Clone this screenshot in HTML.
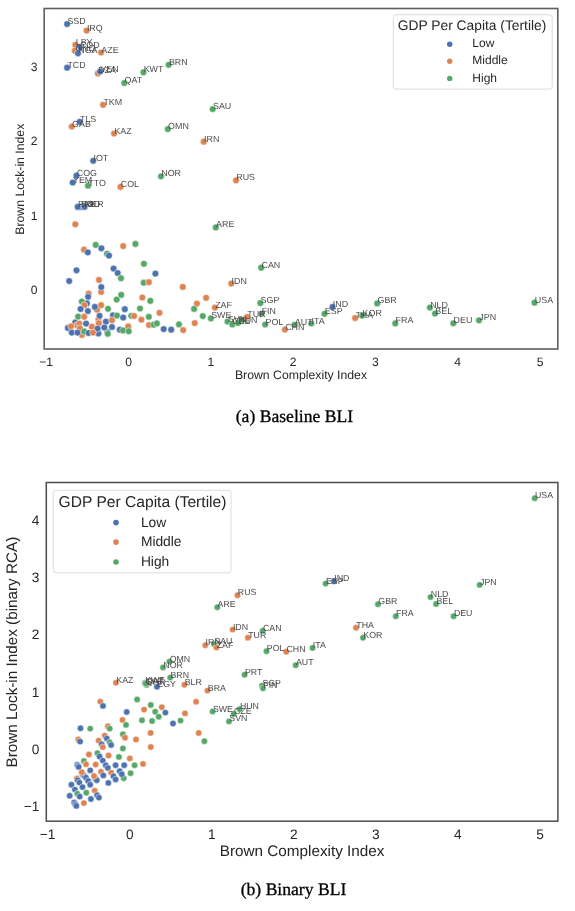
<!DOCTYPE html>
<html><head><meta charset="utf-8"><style>
html,body{margin:0;padding:0;background:#fff;}
body{width:575px;height:911px;overflow:hidden;}
svg{display:block;}
svg{will-change:transform;}
text{text-rendering:geometricPrecision;}
.s{font-family:"Liberation Sans",sans-serif;}
.cap{font-family:"Liberation Serif",serif;fill:#000;}
</style></head><body>
<svg width="575" height="911" viewBox="0 0 575 911">
<rect width="575" height="911" fill="#fff"/>
<!-- ========== PLOT 1 ========== -->
<g stroke="#fff" stroke-width="0.5">
<circle cx="84" cy="249.7" r="3.35" fill="#dd8452"/>
<circle cx="87.8" cy="252.4" r="3.35" fill="#4c72b0"/>
<circle cx="95.7" cy="244.9" r="3.35" fill="#55a868"/>
<circle cx="101.4" cy="248.3" r="3.35" fill="#4c72b0"/>
<circle cx="107" cy="253.8" r="3.35" fill="#55a868"/>
<circle cx="109" cy="255.6" r="3.35" fill="#4c72b0"/>
<circle cx="123.2" cy="246.1" r="3.35" fill="#dd8452"/>
<circle cx="135.4" cy="243.9" r="3.35" fill="#55a868"/>
<circle cx="143.9" cy="263.8" r="3.35" fill="#55a868"/>
<circle cx="76.5" cy="270.3" r="3.35" fill="#4c72b0"/>
<circle cx="113.6" cy="268.6" r="3.35" fill="#4c72b0"/>
<circle cx="117.7" cy="273" r="3.35" fill="#4c72b0"/>
<circle cx="121" cy="278.2" r="3.35" fill="#55a868"/>
<circle cx="69.2" cy="281" r="3.35" fill="#4c72b0"/>
<circle cx="99" cy="279.9" r="3.35" fill="#dd8452"/>
<circle cx="143.7" cy="282.7" r="3.35" fill="#55a868"/>
<circle cx="148.9" cy="282.2" r="3.35" fill="#dd8452"/>
<circle cx="155.4" cy="273.6" r="3.35" fill="#4c72b0"/>
<circle cx="182.8" cy="286.9" r="3.35" fill="#dd8452"/>
<circle cx="75.3" cy="224.3" r="3.35" fill="#dd8452"/>
<circle cx="101.1" cy="292" r="3.35" fill="#dd8452"/>
<circle cx="101.3" cy="287.1" r="3.35" fill="#4c72b0"/>
<circle cx="88.6" cy="293.7" r="3.35" fill="#dd8452"/>
<circle cx="88.1" cy="296.8" r="3.35" fill="#4c72b0"/>
<circle cx="81.8" cy="301.5" r="3.35" fill="#55a868"/>
<circle cx="86.9" cy="303.4" r="3.35" fill="#4c72b0"/>
<circle cx="84.4" cy="305.2" r="3.35" fill="#dd8452"/>
<circle cx="80.6" cy="309" r="3.35" fill="#4c72b0"/>
<circle cx="87.9" cy="311.1" r="3.35" fill="#4c72b0"/>
<circle cx="97" cy="309.7" r="3.35" fill="#dd8452"/>
<circle cx="94.9" cy="306.9" r="3.35" fill="#4c72b0"/>
<circle cx="101.1" cy="305.2" r="3.35" fill="#dd8452"/>
<circle cx="67.9" cy="327.9" r="3.35" fill="#4c72b0"/>
<circle cx="75.3" cy="322.4" r="3.35" fill="#4c72b0"/>
<circle cx="82" cy="335" r="3.35" fill="#dd8452"/>
<circle cx="98.4" cy="333.4" r="3.35" fill="#4c72b0"/>
<circle cx="107.4" cy="332.2" r="3.35" fill="#4c72b0"/>
<circle cx="76.9" cy="325.2" r="3.35" fill="#dd8452"/>
<circle cx="79.3" cy="323.6" r="3.35" fill="#dd8452"/>
<circle cx="80" cy="328.3" r="3.35" fill="#dd8452"/>
<circle cx="98.4" cy="319.7" r="3.35" fill="#dd8452"/>
<circle cx="99.6" cy="315.8" r="3.35" fill="#4c72b0"/>
<circle cx="71" cy="326.3" r="3.35" fill="#dd8452"/>
<circle cx="86.1" cy="323.6" r="3.35" fill="#4c72b0"/>
<circle cx="91.8" cy="326.7" r="3.35" fill="#dd8452"/>
<circle cx="98.8" cy="323.2" r="3.35" fill="#dd8452"/>
<circle cx="105.9" cy="321.7" r="3.35" fill="#4c72b0"/>
<circle cx="97.6" cy="328.7" r="3.35" fill="#4c72b0"/>
<circle cx="104.3" cy="327.5" r="3.35" fill="#4c72b0"/>
<circle cx="71.8" cy="332.6" r="3.35" fill="#4c72b0"/>
<circle cx="77.5" cy="332.6" r="3.35" fill="#4c72b0"/>
<circle cx="84.2" cy="331.4" r="3.35" fill="#55a868"/>
<circle cx="88.6" cy="333" r="3.35" fill="#4c72b0"/>
<circle cx="93" cy="332.6" r="3.35" fill="#dd8452"/>
<circle cx="107.8" cy="333.8" r="3.35" fill="#55a868"/>
<circle cx="78.1" cy="316.6" r="3.35" fill="#55a868"/>
<circle cx="84.2" cy="316.7" r="3.35" fill="#dd8452"/>
<circle cx="121.2" cy="294.9" r="3.35" fill="#55a868"/>
<circle cx="116.7" cy="299.6" r="3.35" fill="#55a868"/>
<circle cx="142.3" cy="297.5" r="3.35" fill="#dd8452"/>
<circle cx="150.3" cy="300.9" r="3.35" fill="#55a868"/>
<circle cx="108" cy="308.8" r="3.35" fill="#55a868"/>
<circle cx="124.8" cy="309.2" r="3.35" fill="#4c72b0"/>
<circle cx="140" cy="308.5" r="3.35" fill="#55a868"/>
<circle cx="159.5" cy="312.8" r="3.35" fill="#dd8452"/>
<circle cx="113" cy="315.3" r="3.35" fill="#4c72b0"/>
<circle cx="117" cy="315.6" r="3.35" fill="#55a868"/>
<circle cx="123.2" cy="317.6" r="3.35" fill="#4c72b0"/>
<circle cx="131.3" cy="315.8" r="3.35" fill="#55a868"/>
<circle cx="134.1" cy="316" r="3.35" fill="#dd8452"/>
<circle cx="141.4" cy="319.7" r="3.35" fill="#dd8452"/>
<circle cx="148.8" cy="316.8" r="3.35" fill="#55a868"/>
<circle cx="112" cy="320.2" r="3.35" fill="#dd8452"/>
<circle cx="112" cy="327" r="3.35" fill="#4c72b0"/>
<circle cx="128.2" cy="326.4" r="3.35" fill="#dd8452"/>
<circle cx="119.8" cy="329.7" r="3.35" fill="#4c72b0"/>
<circle cx="123" cy="330.4" r="3.35" fill="#55a868"/>
<circle cx="128.7" cy="331.2" r="3.35" fill="#55a868"/>
<circle cx="149" cy="325" r="3.35" fill="#dd8452"/>
<circle cx="153.7" cy="324.7" r="3.35" fill="#55a868"/>
<circle cx="156.9" cy="323.4" r="3.35" fill="#55a868"/>
<circle cx="206.1" cy="297.8" r="3.35" fill="#dd8452"/>
<circle cx="196.9" cy="303.6" r="3.35" fill="#dd8452"/>
<circle cx="194.1" cy="308.9" r="3.35" fill="#55a868"/>
<circle cx="202.8" cy="316.1" r="3.35" fill="#55a868"/>
<circle cx="163.7" cy="329.1" r="3.35" fill="#4c72b0"/>
<circle cx="171.2" cy="329.7" r="3.35" fill="#4c72b0"/>
<circle cx="179" cy="324.4" r="3.35" fill="#55a868"/>
<circle cx="183.2" cy="330.1" r="3.35" fill="#dd8452"/>
<circle cx="194.7" cy="323.1" r="3.35" fill="#dd8452"/>
<circle cx="242" cy="320" r="3.35" fill="#55a868"/>
<circle cx="67.1" cy="24" r="3.35" fill="#4c72b0"/>
<circle cx="86.6" cy="30.6" r="3.35" fill="#dd8452"/>
<circle cx="75.4" cy="44.9" r="3.35" fill="#dd8452"/>
<circle cx="79.6" cy="47.5" r="3.35" fill="#4c72b0"/>
<circle cx="74.9" cy="50.7" r="3.35" fill="#dd8452"/>
<circle cx="78" cy="53.3" r="3.35" fill="#4c72b0"/>
<circle cx="101" cy="52.5" r="3.35" fill="#dd8452"/>
<circle cx="67.1" cy="67.7" r="3.35" fill="#4c72b0"/>
<circle cx="97.9" cy="73.4" r="3.35" fill="#dd8452"/>
<circle cx="100" cy="71.6" r="3.35" fill="#4c72b0"/>
<circle cx="124.3" cy="83" r="3.35" fill="#55a868"/>
<circle cx="143.4" cy="72.3" r="3.35" fill="#55a868"/>
<circle cx="168.6" cy="64.8" r="3.35" fill="#55a868"/>
<circle cx="103.1" cy="104.8" r="3.35" fill="#dd8452"/>
<circle cx="71.8" cy="126.5" r="3.35" fill="#dd8452"/>
<circle cx="79.7" cy="121.8" r="3.35" fill="#4c72b0"/>
<circle cx="114.1" cy="133.5" r="3.35" fill="#dd8452"/>
<circle cx="212.7" cy="109.1" r="3.35" fill="#55a868"/>
<circle cx="167.8" cy="129.1" r="3.35" fill="#55a868"/>
<circle cx="203.7" cy="141.7" r="3.35" fill="#dd8452"/>
<circle cx="93.2" cy="160.8" r="3.35" fill="#4c72b0"/>
<circle cx="76.5" cy="175.6" r="3.35" fill="#4c72b0"/>
<circle cx="72.7" cy="182.5" r="3.35" fill="#4c72b0"/>
<circle cx="88" cy="185.7" r="3.35" fill="#55a868"/>
<circle cx="120.5" cy="186.9" r="3.35" fill="#dd8452"/>
<circle cx="161" cy="176.3" r="3.35" fill="#55a868"/>
<circle cx="236" cy="180.4" r="3.35" fill="#dd8452"/>
<circle cx="215.8" cy="227.4" r="3.35" fill="#55a868"/>
<circle cx="80.6" cy="206.9" r="3.35" fill="#4c72b0"/>
<circle cx="77.7" cy="206.9" r="3.35" fill="#4c72b0"/>
<circle cx="84.6" cy="206.9" r="3.35" fill="#4c72b0"/>
<circle cx="261.2" cy="267.7" r="3.35" fill="#55a868"/>
<circle cx="231.3" cy="283.6" r="3.35" fill="#dd8452"/>
<circle cx="214.9" cy="307.6" r="3.35" fill="#dd8452"/>
<circle cx="260.3" cy="303.1" r="3.35" fill="#55a868"/>
<circle cx="210.9" cy="318.4" r="3.35" fill="#55a868"/>
<circle cx="227.5" cy="321.5" r="3.35" fill="#55a868"/>
<circle cx="232.3" cy="324.4" r="3.35" fill="#55a868"/>
<circle cx="238" cy="323" r="3.35" fill="#55a868"/>
<circle cx="261.4" cy="313.9" r="3.35" fill="#55a868"/>
<circle cx="247" cy="317" r="3.35" fill="#dd8452"/>
<circle cx="265.2" cy="324.5" r="3.35" fill="#55a868"/>
<circle cx="284.9" cy="329.6" r="3.35" fill="#dd8452"/>
<circle cx="294.5" cy="324.8" r="3.35" fill="#55a868"/>
<circle cx="311.3" cy="323.5" r="3.35" fill="#55a868"/>
<circle cx="324.5" cy="313.8" r="3.35" fill="#55a868"/>
<circle cx="332.5" cy="306.9" r="3.35" fill="#4c72b0"/>
<circle cx="355.1" cy="318" r="3.35" fill="#dd8452"/>
<circle cx="362.3" cy="315.6" r="3.35" fill="#55a868"/>
<circle cx="377.2" cy="303.4" r="3.35" fill="#55a868"/>
<circle cx="395.3" cy="323.4" r="3.35" fill="#55a868"/>
<circle cx="429.9" cy="307.6" r="3.35" fill="#55a868"/>
<circle cx="435" cy="313.6" r="3.35" fill="#55a868"/>
<circle cx="453.3" cy="323.3" r="3.35" fill="#55a868"/>
<circle cx="479" cy="320.3" r="3.35" fill="#55a868"/>
<circle cx="534.5" cy="302.7" r="3.35" fill="#55a868"/>
</g>
<g class="s" font-size="8.9" fill="#4a4a4a">
<text transform="translate(67.4,24.0) scale(1,1)">SSD</text>
<text transform="translate(86.9,30.6) scale(1,1)">IRQ</text>
<text transform="translate(75.7,44.9) scale(1,1)">LBY</text>
<text transform="translate(79.9,47.5) scale(1,1)">COD</text>
<text transform="translate(75.2,50.7) scale(1,1)">GNQ</text>
<text transform="translate(78.3,53.3) scale(1,1)">NGA</text>
<text transform="translate(101.3,52.5) scale(1,1)">AZE</text>
<text transform="translate(67.4,67.7) scale(1,1)">TCD</text>
<text transform="translate(98.2,73.4) scale(1,1)">DZA</text>
<text transform="translate(100.3,71.6) scale(1,1)">VEN</text>
<text transform="translate(124.6,83.0) scale(1,1)">QAT</text>
<text transform="translate(143.7,72.3) scale(1,1)">KWT</text>
<text transform="translate(168.9,64.8) scale(1,1)">BRN</text>
<text transform="translate(103.4,104.8) scale(1,1)">TKM</text>
<text transform="translate(72.1,126.5) scale(1,1)">GAB</text>
<text transform="translate(80.0,121.8) scale(1,1)">TLS</text>
<text transform="translate(114.4,133.5) scale(1,1)">KAZ</text>
<text transform="translate(213.0,109.1) scale(1,1)">SAU</text>
<text transform="translate(168.1,129.1) scale(1,1)">OMN</text>
<text transform="translate(204.0,141.7) scale(1,1)">IRN</text>
<text transform="translate(93.5,160.8) scale(1,1)">IOT</text>
<text transform="translate(76.8,175.6) scale(1,1)">COG</text>
<text transform="translate(73.0,182.5) scale(1,1)">YEM</text>
<text transform="translate(88.3,185.7) scale(1,1)">TTO</text>
<text transform="translate(120.8,186.9) scale(1,1)">COL</text>
<text transform="translate(161.3,176.3) scale(1,1)">NOR</text>
<text transform="translate(236.3,180.4) scale(1,1)">RUS</text>
<text transform="translate(216.1,227.4) scale(1,1)">ARE</text>
<text transform="translate(80.9,206.9) scale(1,1)">BGD</text>
<text transform="translate(78.0,206.9) scale(1,1)">PRK</text>
<text transform="translate(84.9,206.9) scale(1,1)">NER</text>
<text transform="translate(261.5,267.7) scale(1,1)">CAN</text>
<text transform="translate(231.6,283.6) scale(1,1)">IDN</text>
<text transform="translate(215.2,307.6) scale(1,1)">ZAF</text>
<text transform="translate(260.6,303.1) scale(1,1)">SGP</text>
<text transform="translate(211.2,318.4) scale(1,1)">SWE</text>
<text transform="translate(227.8,321.5) scale(1,1)">SVN</text>
<text transform="translate(232.6,324.4) scale(1,1)">CZE</text>
<text transform="translate(238.3,323.0) scale(1,1)">HUN</text>
<text transform="translate(261.7,313.9) scale(1,1)">FIN</text>
<text transform="translate(247.3,317.0) scale(1,1)">TUR</text>
<text transform="translate(265.5,324.5) scale(1,1)">POL</text>
<text transform="translate(285.2,329.6) scale(1,1)">CHN</text>
<text transform="translate(294.8,324.8) scale(1,1)">AUT</text>
<text transform="translate(311.6,323.5) scale(1,1)">ITA</text>
<text transform="translate(324.8,313.8) scale(1,1)">ESP</text>
<text transform="translate(332.8,306.9) scale(1,1)">IND</text>
<text transform="translate(355.4,318.0) scale(1,1)">THA</text>
<text transform="translate(362.6,315.6) scale(1,1)">KOR</text>
<text transform="translate(377.5,303.4) scale(1,1)">GBR</text>
<text transform="translate(395.6,323.4) scale(1,1)">FRA</text>
<text transform="translate(430.2,307.6) scale(1,1)">NLD</text>
<text transform="translate(435.3,313.6) scale(1,1)">BEL</text>
<text transform="translate(453.6,323.3) scale(1,1)">DEU</text>
<text transform="translate(479.3,320.3) scale(1,1)">JPN</text>
<text transform="translate(534.8,302.7) scale(1,1)">USA</text>
</g>
<rect x="393.3" y="14.7" width="158.9" height="74.4" rx="2.8" fill="#fff" fill-opacity="0.8" stroke="#d8d8d8" stroke-width="0.9"/>
<g class="s" fill="#262626">
<text x="397.8" y="29.7" font-size="13.8">GDP Per Capita (Tertile)</text>
<g font-size="12"><text x="472.3" y="46.9">Low</text><text x="472.3" y="64.3">Middle</text><text x="472.3" y="81.6">High</text></g>
</g>
<circle cx="449.7" cy="44.3" r="2.7" fill="#4c72b0"/><circle cx="449.7" cy="61.2" r="2.7" fill="#dd8452"/><circle cx="449.7" cy="78.4" r="2.7" fill="#55a868"/>
<rect x="44.2" y="8.5" width="513.6" height="340.5" fill="none" stroke="#5e5e5e" stroke-width="1.6"/>
<g class="s" font-size="12.1" fill="#262626">
<text x="46.2" y="365.7" text-anchor="middle">−1</text>
<text x="128.5" y="365.7" text-anchor="middle">0</text>
<text x="210.8" y="365.7" text-anchor="middle">1</text>
<text x="293.1" y="365.7" text-anchor="middle">2</text>
<text x="375.4" y="365.7" text-anchor="middle">3</text>
<text x="457.7" y="365.7" text-anchor="middle">4</text>
<text x="540.0" y="365.7" text-anchor="middle">5</text>
<text x="37.6" y="294.1" text-anchor="end">0</text>
<text x="37.6" y="219.7" text-anchor="end">1</text>
<text x="37.6" y="145.3" text-anchor="end">2</text>
<text x="37.6" y="70.9" text-anchor="end">3</text>
</g>
<g class="s" font-size="12.25" fill="#262626">
<text x="301" y="379.4" text-anchor="middle">Brown Complexity Index</text>
<text transform="translate(24.3,179.2) rotate(-90)" text-anchor="middle">Brown Lock-in Index</text>
</g>
<text class="cap" x="294.4" y="421.7" font-size="17.6" stroke="#000" stroke-width="0.3" text-anchor="middle">(a) Baseline BLI</text>

<!-- ========== PLOT 2 ========== -->
<g stroke="#fff" stroke-width="0.5">
<circle cx="123.7" cy="778.2" r="3.2" fill="#55a868"/>
<circle cx="83.9" cy="761" r="3.2" fill="#55a868"/>
<circle cx="77.2" cy="764.8" r="3.2" fill="#4c72b0"/>
<circle cx="78" cy="765.9" r="3.2" fill="#4c72b0"/>
<circle cx="78.7" cy="767" r="3.2" fill="#4c72b0"/>
<circle cx="86" cy="764.2" r="3.2" fill="#dd8452"/>
<circle cx="95.7" cy="764.5" r="3.2" fill="#dd8452"/>
<circle cx="90.2" cy="770.4" r="3.2" fill="#4c72b0"/>
<circle cx="82.6" cy="774.5" r="3.2" fill="#4c72b0"/>
<circle cx="84.3" cy="776" r="3.2" fill="#4c72b0"/>
<circle cx="86" cy="777.7" r="3.2" fill="#4c72b0"/>
<circle cx="81.8" cy="772.2" r="3.2" fill="#dd8452"/>
<circle cx="95.3" cy="778.5" r="3.2" fill="#4c72b0"/>
<circle cx="96.8" cy="780.2" r="3.2" fill="#4c72b0"/>
<circle cx="94" cy="776" r="3.2" fill="#dd8452"/>
<circle cx="77" cy="778.4" r="3.2" fill="#dd8452"/>
<circle cx="77.7" cy="780.2" r="3.2" fill="#4c72b0"/>
<circle cx="79.4" cy="782.6" r="3.2" fill="#4c72b0"/>
<circle cx="88.1" cy="780.9" r="3.2" fill="#4c72b0"/>
<circle cx="90.2" cy="784.7" r="3.2" fill="#4c72b0"/>
<circle cx="82.5" cy="787.1" r="3.2" fill="#4c72b0"/>
<circle cx="71.4" cy="784.7" r="3.2" fill="#4c72b0"/>
<circle cx="74.9" cy="789.6" r="3.2" fill="#4c72b0"/>
<circle cx="77.3" cy="793.7" r="3.2" fill="#55a868"/>
<circle cx="79.7" cy="796.5" r="3.2" fill="#4c72b0"/>
<circle cx="86.3" cy="792.7" r="3.2" fill="#55a868"/>
<circle cx="94.7" cy="790.6" r="3.2" fill="#dd8452"/>
<circle cx="69.7" cy="795.8" r="3.2" fill="#4c72b0"/>
<circle cx="90.9" cy="799" r="3.2" fill="#4c72b0"/>
<circle cx="97.1" cy="795.1" r="3.2" fill="#4c72b0"/>
<circle cx="98.9" cy="797.6" r="3.2" fill="#4c72b0"/>
<circle cx="74.2" cy="802.4" r="3.2" fill="#4c72b0"/>
<circle cx="75.3" cy="804.2" r="3.2" fill="#4c72b0"/>
<circle cx="76.3" cy="805.9" r="3.2" fill="#4c72b0"/>
<circle cx="83.9" cy="803.1" r="3.2" fill="#dd8452"/>
<circle cx="80.5" cy="728.3" r="3.2" fill="#4c72b0"/>
<circle cx="90.2" cy="728.6" r="3.2" fill="#55a868"/>
<circle cx="107.9" cy="726.3" r="3.2" fill="#dd8452"/>
<circle cx="109.7" cy="728.6" r="3.2" fill="#55a868"/>
<circle cx="78.3" cy="739.5" r="3.2" fill="#dd8452"/>
<circle cx="80.1" cy="741.6" r="3.2" fill="#4c72b0"/>
<circle cx="98.6" cy="740.6" r="3.2" fill="#dd8452"/>
<circle cx="104.7" cy="735.6" r="3.2" fill="#dd8452"/>
<circle cx="106.8" cy="738.5" r="3.2" fill="#4c72b0"/>
<circle cx="101.7" cy="744.3" r="3.2" fill="#4c72b0"/>
<circle cx="102.8" cy="747.1" r="3.2" fill="#dd8452"/>
<circle cx="109.7" cy="742.3" r="3.2" fill="#55a868"/>
<circle cx="111.1" cy="745" r="3.2" fill="#4c72b0"/>
<circle cx="122.9" cy="748.5" r="3.2" fill="#55a868"/>
<circle cx="88.9" cy="754.5" r="3.2" fill="#dd8452"/>
<circle cx="97.5" cy="753.1" r="3.2" fill="#55a868"/>
<circle cx="99.6" cy="756.5" r="3.2" fill="#4c72b0"/>
<circle cx="108.6" cy="755.5" r="3.2" fill="#dd8452"/>
<circle cx="118.9" cy="756.9" r="3.2" fill="#55a868"/>
<circle cx="102.8" cy="760.6" r="3.2" fill="#4c72b0"/>
<circle cx="105.8" cy="765.2" r="3.2" fill="#4c72b0"/>
<circle cx="107.9" cy="768" r="3.2" fill="#4c72b0"/>
<circle cx="115.6" cy="765.2" r="3.2" fill="#4c72b0"/>
<circle cx="124.2" cy="765.2" r="3.2" fill="#4c72b0"/>
<circle cx="101" cy="771.8" r="3.2" fill="#dd8452"/>
<circle cx="111.1" cy="772.6" r="3.2" fill="#dd8452"/>
<circle cx="119.7" cy="771.2" r="3.2" fill="#4c72b0"/>
<circle cx="121.8" cy="774.3" r="3.2" fill="#4c72b0"/>
<circle cx="103.3" cy="775.4" r="3.2" fill="#4c72b0"/>
<circle cx="113.5" cy="776.3" r="3.2" fill="#4c72b0"/>
<circle cx="115.6" cy="779.5" r="3.2" fill="#4c72b0"/>
<circle cx="108.3" cy="782.9" r="3.2" fill="#4c72b0"/>
<circle cx="137.1" cy="699.5" r="3.2" fill="#55a868"/>
<circle cx="150.8" cy="705" r="3.2" fill="#55a868"/>
<circle cx="144.1" cy="709.6" r="3.2" fill="#dd8452"/>
<circle cx="161.8" cy="707.2" r="3.2" fill="#dd8452"/>
<circle cx="155.2" cy="711.7" r="3.2" fill="#55a868"/>
<circle cx="165.4" cy="712.6" r="3.2" fill="#4c72b0"/>
<circle cx="158.7" cy="716.7" r="3.2" fill="#55a868"/>
<circle cx="126.7" cy="712" r="3.2" fill="#4c72b0"/>
<circle cx="185" cy="713.4" r="3.2" fill="#dd8452"/>
<circle cx="122.5" cy="719.9" r="3.2" fill="#dd8452"/>
<circle cx="142" cy="720.3" r="3.2" fill="#55a868"/>
<circle cx="152.1" cy="721" r="3.2" fill="#55a868"/>
<circle cx="180.5" cy="720.6" r="3.2" fill="#55a868"/>
<circle cx="173" cy="723.5" r="3.2" fill="#4c72b0"/>
<circle cx="126" cy="724.9" r="3.2" fill="#55a868"/>
<circle cx="150.6" cy="732.9" r="3.2" fill="#dd8452"/>
<circle cx="122.9" cy="734.3" r="3.2" fill="#55a868"/>
<circle cx="125" cy="737.7" r="3.2" fill="#dd8452"/>
<circle cx="136" cy="739.5" r="3.2" fill="#dd8452"/>
<circle cx="150.8" cy="747" r="3.2" fill="#dd8452"/>
<circle cx="129.8" cy="758.4" r="3.2" fill="#dd8452"/>
<circle cx="143" cy="763.9" r="3.2" fill="#dd8452"/>
<circle cx="134.6" cy="765.2" r="3.2" fill="#55a868"/>
<circle cx="130.6" cy="773.2" r="3.2" fill="#55a868"/>
<circle cx="196.1" cy="701.7" r="3.2" fill="#dd8452"/>
<circle cx="198.7" cy="733" r="3.2" fill="#dd8452"/>
<circle cx="204.4" cy="741.2" r="3.2" fill="#55a868"/>
<circle cx="100.3" cy="701.6" r="3.2" fill="#dd8452"/>
<circle cx="103" cy="705.9" r="3.2" fill="#4c72b0"/>
<circle cx="534.7" cy="498.2" r="3.2" fill="#55a868"/>
<circle cx="325.6" cy="583.6" r="3.2" fill="#55a868"/>
<circle cx="333.9" cy="581.3" r="3.2" fill="#4c72b0"/>
<circle cx="479.7" cy="584.9" r="3.2" fill="#55a868"/>
<circle cx="430.5" cy="597.1" r="3.2" fill="#55a868"/>
<circle cx="436.1" cy="604" r="3.2" fill="#55a868"/>
<circle cx="378" cy="604.2" r="3.2" fill="#55a868"/>
<circle cx="395.8" cy="616.3" r="3.2" fill="#55a868"/>
<circle cx="453.6" cy="616.3" r="3.2" fill="#55a868"/>
<circle cx="237.5" cy="595.3" r="3.2" fill="#dd8452"/>
<circle cx="217.3" cy="607.3" r="3.2" fill="#55a868"/>
<circle cx="232.6" cy="629.6" r="3.2" fill="#dd8452"/>
<circle cx="262.7" cy="630.8" r="3.2" fill="#55a868"/>
<circle cx="247.9" cy="637.7" r="3.2" fill="#dd8452"/>
<circle cx="356" cy="627.7" r="3.2" fill="#dd8452"/>
<circle cx="363" cy="637.8" r="3.2" fill="#55a868"/>
<circle cx="312.5" cy="647.9" r="3.2" fill="#55a868"/>
<circle cx="286.2" cy="651.7" r="3.2" fill="#dd8452"/>
<circle cx="266.5" cy="651.2" r="3.2" fill="#55a868"/>
<circle cx="205.3" cy="645.2" r="3.2" fill="#dd8452"/>
<circle cx="214" cy="644" r="3.2" fill="#55a868"/>
<circle cx="216.4" cy="647.5" r="3.2" fill="#dd8452"/>
<circle cx="295.7" cy="665.2" r="3.2" fill="#55a868"/>
<circle cx="244.6" cy="674.7" r="3.2" fill="#55a868"/>
<circle cx="262.1" cy="685.7" r="3.2" fill="#55a868"/>
<circle cx="263" cy="688.3" r="3.2" fill="#55a868"/>
<circle cx="207.5" cy="690.6" r="3.2" fill="#dd8452"/>
<circle cx="184.4" cy="684.8" r="3.2" fill="#dd8452"/>
<circle cx="170.2" cy="677.6" r="3.2" fill="#55a868"/>
<circle cx="163" cy="667.5" r="3.2" fill="#55a868"/>
<circle cx="169.4" cy="661.6" r="3.2" fill="#55a868"/>
<circle cx="157" cy="686.8" r="3.2" fill="#4c72b0"/>
<circle cx="144.9" cy="682.8" r="3.2" fill="#55a868"/>
<circle cx="146.6" cy="684.9" r="3.2" fill="#55a868"/>
<circle cx="145.6" cy="683.6" r="3.2" fill="#55a868"/>
<circle cx="116" cy="682.8" r="3.2" fill="#dd8452"/>
<circle cx="212.6" cy="711.5" r="3.2" fill="#55a868"/>
<circle cx="239.6" cy="709.3" r="3.2" fill="#55a868"/>
<circle cx="233.7" cy="714" r="3.2" fill="#55a868"/>
<circle cx="229" cy="721.4" r="3.2" fill="#55a868"/>
</g>
<g class="s" font-size="8.8" fill="#4a4a4a">
<text transform="translate(535.0,498.2) scale(1,1)">USA</text>
<text transform="translate(325.9,583.6) scale(1,1)">ESP</text>
<text transform="translate(334.2,581.3) scale(1,1)">IND</text>
<text transform="translate(480.0,584.9) scale(1,1)">JPN</text>
<text transform="translate(430.8,597.1) scale(1,1)">NLD</text>
<text transform="translate(436.4,604.0) scale(1,1)">BEL</text>
<text transform="translate(378.3,604.2) scale(1,1)">GBR</text>
<text transform="translate(396.1,616.3) scale(1,1)">FRA</text>
<text transform="translate(453.9,616.3) scale(1,1)">DEU</text>
<text transform="translate(237.8,595.3) scale(1,1)">RUS</text>
<text transform="translate(217.6,607.3) scale(1,1)">ARE</text>
<text transform="translate(232.9,629.6) scale(1,1)">IDN</text>
<text transform="translate(263.0,630.8) scale(1,1)">CAN</text>
<text transform="translate(248.2,637.7) scale(1,1)">TUR</text>
<text transform="translate(356.3,627.7) scale(1,1)">THA</text>
<text transform="translate(363.3,637.8) scale(1,1)">KOR</text>
<text transform="translate(312.8,647.9) scale(1,1)">ITA</text>
<text transform="translate(286.5,651.7) scale(1,1)">CHN</text>
<text transform="translate(266.8,651.2) scale(1,1)">POL</text>
<text transform="translate(205.6,645.2) scale(1,1)">IRN</text>
<text transform="translate(214.3,644.0) scale(1,1)">SAU</text>
<text transform="translate(216.7,647.5) scale(1,1)">ZAF</text>
<text transform="translate(296.0,665.2) scale(1,1)">AUT</text>
<text transform="translate(244.9,674.7) scale(1,1)">PRT</text>
<text transform="translate(262.4,685.7) scale(1,1)">SGP</text>
<text transform="translate(263.3,688.3) scale(1,1)">FIN</text>
<text transform="translate(207.8,690.6) scale(1,1)">BRA</text>
<text transform="translate(184.7,684.8) scale(1,1)">BLR</text>
<text transform="translate(170.5,677.6) scale(1,1)">BRN</text>
<text transform="translate(163.3,667.5) scale(1,1)">NOR</text>
<text transform="translate(169.7,661.6) scale(1,1)">OMN</text>
<text transform="translate(157.3,686.8) scale(1,1)">EGY</text>
<text transform="translate(145.2,682.8) scale(1,1)">KWT</text>
<text transform="translate(146.9,684.9) scale(1,1)">BHR</text>
<text transform="translate(145.9,683.6) scale(1,1)">QAT</text>
<text transform="translate(116.3,682.8) scale(1,1)">KAZ</text>
<text transform="translate(212.9,711.5) scale(1,1)">SWE</text>
<text transform="translate(239.9,709.3) scale(1,1)">HUN</text>
<text transform="translate(234.0,714.0) scale(1,1)">CZE</text>
<text transform="translate(229.3,721.4) scale(1,1)">SVN</text>
</g>
<rect x="53.3" y="490.3" width="177.7" height="82.6" rx="2.8" fill="#fff" fill-opacity="0.8" stroke="#d8d8d8" stroke-width="0.9"/>
<g class="s" fill="#262626">
<text x="58.6" y="506.8" font-size="15.6">GDP Per Capita (Tertile)</text>
<g font-size="13.8"><text x="140.9" y="526.6">Low</text><text x="140.9" y="546.1">Middle</text><text x="140.9" y="565.6">High</text></g>
</g>
<circle cx="116" cy="522.6" r="2.8" fill="#4c72b0"/><circle cx="116" cy="542.1" r="2.8" fill="#dd8452"/><circle cx="116" cy="562" r="2.8" fill="#55a868"/>
<rect x="46.3" y="482.5" width="511.6" height="338.7" fill="none" stroke="#4e4e4e" stroke-width="1.5"/>
<g class="s" font-size="13.7" fill="#262626">
<text x="47.6" y="838.6" text-anchor="middle">−1</text>
<text x="129.7" y="838.6" text-anchor="middle">0</text>
<text x="211.8" y="838.6" text-anchor="middle">1</text>
<text x="293.8" y="838.6" text-anchor="middle">2</text>
<text x="375.9" y="838.6" text-anchor="middle">3</text>
<text x="457.9" y="838.6" text-anchor="middle">4</text>
<text x="540.0" y="838.6" text-anchor="middle">5</text>
<text x="39.4" y="810.9" text-anchor="end">−1</text>
<text x="39.4" y="753.7" text-anchor="end">0</text>
<text x="39.4" y="696.5" text-anchor="end">1</text>
<text x="39.4" y="639.3" text-anchor="end">2</text>
<text x="39.4" y="582.2" text-anchor="end">3</text>
<text x="39.4" y="525.0" text-anchor="end">4</text>
</g>
<g class="s" font-size="15.28" fill="#262626">
<text x="302.1" y="855.6" text-anchor="middle">Brown Complexity Index</text>
<text transform="translate(16.8,652.1) rotate(-90)" text-anchor="middle">Brown Lock-in Index (binary RCA)</text>
</g>
<text class="cap" x="293.5" y="894.8" font-size="17.6" stroke="#000" stroke-width="0.3" text-anchor="middle">(b) Binary BLI</text>
</svg>
</body></html>
